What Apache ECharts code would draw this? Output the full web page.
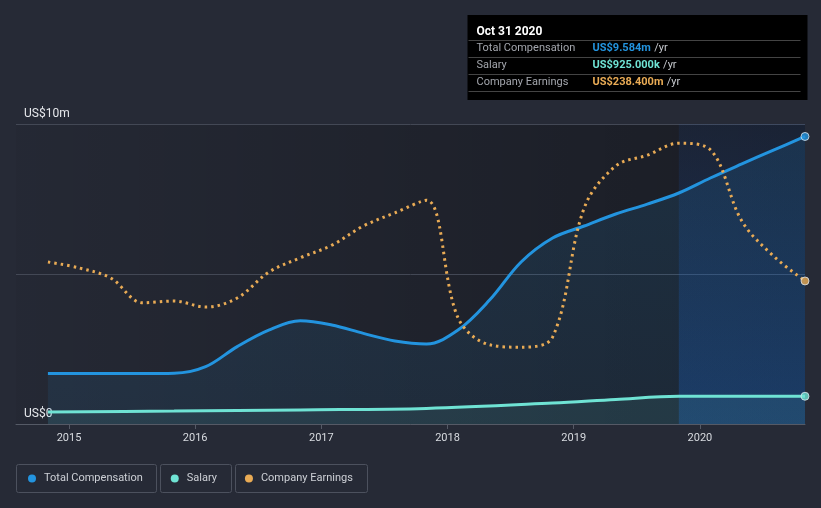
<!DOCTYPE html>
<html><head><meta charset="utf-8">
<script src="https://cdn.jsdelivr.net/npm/echarts@6/dist/echarts.min.js"></script>
<style>html,body{margin:0;padding:0;background:#262a36;}#c{width:821px;height:508px;}</style>
</head><body><div id="c"></div>
<script>
// Dates as decimal years (Oct 31 = .833)
const compDates = [2014.833,2015.083,2015.333,2015.583,2015.833,2016.083,2016.333,2016.583,2016.833,2017.083,2017.333,2017.583,2017.833,2018.083,2018.333,2018.583,2018.833,2019.083,2019.333,2019.583,2019.833,2020.083,2020.333,2020.583,2020.833];
const totalComp = [1.68,1.68,1.68,1.68,1.69,1.91,2.58,3.13,3.44,3.30,3.02,2.77,2.67,3.13,4.13,5.40,6.20,6.60,7.00,7.33,7.70,8.20,8.67,9.13,9.584];
const salaryDates = [2014.833,2015.833,2016.833,2017.833,2018.833,2019.333,2019.833,2020.833];
const salary = [0.40,0.43,0.47,0.52,0.70,0.82,0.925,0.925];
const earnings = [270,260,243,202,205,195,210,253,277,298,330,352,373,177,132,128,145,360,430,448,468,457,338,280,238.4];
const yearTicks = [2015,2016,2017,2018,2019,2020];
const seriesNames = ['Total Compensation','Salary','Company Earnings'];
const colors = ['#2394df','#6fe3d4','#e9ab55'];

const zip = (xs, ys) => xs.map((x,i)=>[x, ys[i]]);
const chart = echarts.init(document.getElementById('c'), null, {renderer:'canvas'});
const font = 'Roboto, "Noto Sans", sans-serif';

const legendBoxes = [[16,464,140,28],[160,464,71,28],[235,464,132,28]];

chart.setOption({
  backgroundColor: '#262a36',
  animation: false,
  textStyle: {fontFamily: font},
  grid: {left:16, right:16, top:124, bottom:84, show:true, borderWidth:0,
    backgroundColor: new echarts.graphic.LinearGradient(0,0,1,0,[{offset:0,color:'rgba(0,0,0,0.04)'},{offset:1,color:'rgba(0,0,0,0.32)'}])},
  legend: {left:28, top:473, padding:0, itemWidth:8, itemHeight:8, itemGap:28, icon:'circle', selectedMode:false,
    data: seriesNames,
    textStyle:{color:'#cdd0d6', fontSize:11, fontFamily:font, padding:[0,0,0,3]}},
  xAxis: {type:'value', min:2014.58, max:2020.833,
    axisLine:{show:true, lineStyle:{color:'#555a66'}},
    axisTick:{show:true, customValues:yearTicks, length:5, lineStyle:{color:'#555a66'}},
    axisLabel:{customValues:yearTicks, color:'#d8dbe0', fontSize:11, margin:9, formatter:v=>String(Math.round(v))},
    splitLine:{show:false}},
  yAxis: [
    {type:'value', min:0, max:10, interval:5,
     axisLine:{show:false}, axisTick:{show:false},
     splitLine:{lineStyle:{color:'#434855', width:1}},
     axisLabel:{inside:true, margin:8, verticalAlign:'bottom', padding:[0,0,4,0], color:'#e6e8ec', fontSize:12,
       formatter:v=> v===0 ? 'US$0' : (v===10 ? 'US$10m' : '')}},
    {type:'value', min:0, max:500, show:false, splitLine:{show:false}}
  ],
  series: [
    {name:seriesNames[0], type:'line', data:zip(compDates,totalComp), smooth:0.35,
     showSymbol:false, z:3, lineStyle:{color:colors[0], width:3}, itemStyle:{color:colors[0]},
     areaStyle:{color:new echarts.graphic.LinearGradient(0,0,0,1,[{offset:0,color:'rgba(35,148,223,0.2)'},{offset:1,color:'rgba(35,148,223,0.12)'}])}},
    {name:seriesNames[1], type:'line', data:zip(salaryDates,salary), smooth:0.35,
     showSymbol:false, z:4, lineStyle:{color:colors[1], width:3}, itemStyle:{color:colors[1]},
     areaStyle:{color:'rgba(111,227,212,0.13)'}},
    {name:seriesNames[2], type:'line', yAxisIndex:1, data:zip(compDates,earnings), smooth:0.35,
     showSymbol:false, z:5, lineStyle:{color:colors[2], width:3, type:[2.5,4]}, itemStyle:{color:colors[2]}},
    {type:'scatter', z:6, symbolSize:8, data:[{value:[compDates[compDates.length-1], totalComp[totalComp.length-1]], itemStyle:{color:colors[0]}},{value:[salaryDates[salaryDates.length-1], salary[salary.length-1]], itemStyle:{color:colors[1]}}],
     itemStyle:{borderColor:'#dfe6ee', borderWidth:1}},
    {type:'scatter', yAxisIndex:1, z:6, symbolSize:8, data:[[compDates[compDates.length-1], earnings[earnings.length-1]]],
     itemStyle:{color:colors[2], borderColor:'#dfe6ee', borderWidth:1}},
    {type:'line', data:[], z:8, markArea:{silent:true,
      itemStyle:{color:new echarts.graphic.LinearGradient(0,0,0,1,[{offset:0,color:'rgba(25,85,185,0.1)'},{offset:1,color:'rgba(25,95,195,0.34)'}])},
      data:[[{xAxis:2019.833, yAxis:0},{xAxis:2020.833, yAxis:10}]]}}
  ],
  graphic: [
    ...legendBoxes.map(b=>({type:'rect', shape:{x:b[0]+0.5,y:b[1]+0.5,width:b[2],height:b[3],r:2}, style:{fill:'none', stroke:'#4c515e', lineWidth:1}, z:-1})),
    {type:'group', left:466, top:15, z:100, children:[
      {type:'rect', shape:{x:0,y:0,width:340,height:85}, style:{fill:'#000'}},
      {type:'text', x:9, y:16.5, style:{text:'Oct 31 2020', fill:'#fff', font:'bold 12px '+font, verticalAlign:'middle'}},
      {type:'line', shape:{x1:1,y1:25.5,x2:333,y2:25.5}, style:{stroke:'#444', lineWidth:1}},
      {type:'line', shape:{x1:1,y1:42.5,x2:333,y2:42.5}, style:{stroke:'#444', lineWidth:1}},
      {type:'line', shape:{x1:1,y1:59.5,x2:333,y2:59.5}, style:{stroke:'#444', lineWidth:1}},
      {type:'line', shape:{x1:1,y1:76.5,x2:333,y2:76.5}, style:{stroke:'#444', lineWidth:1}},
      {type:'text', x:9, y:33.5, style:{text:'Total Compensation', fill:'#a3a6ad', font:'11px '+font, verticalAlign:'middle'}},
      {type:'text', x:9, y:50.5, style:{text:'Salary', fill:'#a3a6ad', font:'11px '+font, verticalAlign:'middle'}},
      {type:'text', x:9, y:67.5, style:{text:'Company Earnings', fill:'#a3a6ad', font:'11px '+font, verticalAlign:'middle'}},
      {type:'text', x:125, y:33.5, style:{text:'{v|US$9.584m} {u|/yr}', verticalAlign:'middle', rich:{v:{fill:colors[0], font:'bold 11px '+font}, u:{fill:'#c8cbd0', font:'11px '+font}}}},
      {type:'text', x:125, y:50.5, style:{text:'{v|US$925.000k} {u|/yr}', verticalAlign:'middle', rich:{v:{fill:colors[1], font:'bold 11px '+font}, u:{fill:'#c8cbd0', font:'11px '+font}}}},
      {type:'text', x:125, y:67.5, style:{text:'{v|US$238.400m} {u|/yr}', verticalAlign:'middle', rich:{v:{fill:colors[2], font:'bold 11px '+font}, u:{fill:'#c8cbd0', font:'11px '+font}}}}
    ]}
  ]
});
</script></body></html>
